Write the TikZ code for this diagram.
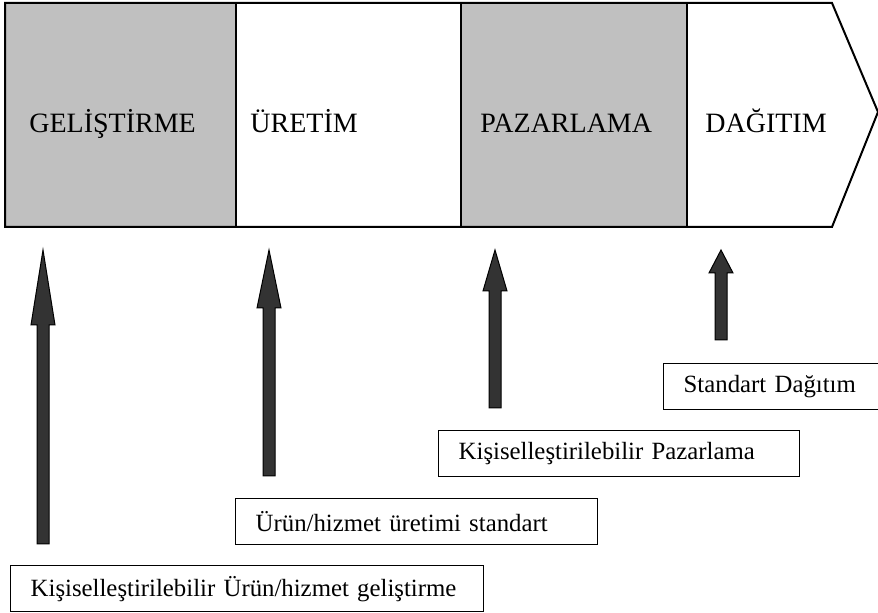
\documentclass[tikz,border=0pt]{standalone}
\usepackage{fontspec}
\setmainfont{Liberation Serif}
\usetikzlibrary{calc,positioning}
\definecolor{bandgray}{RGB}{192,192,192}
\definecolor{arrowgray}{RGB}{51,51,51}
\tikzset{
    stage/.style={anchor=base west,inner sep=0pt,font=\fontsize{14}{16}\selectfont},
    lowbox/.style={draw,line width=0.7pt,fill=white,anchor=north west,
                   minimum height=23pt,inner xsep=10pt,inner ysep=0pt,
                   font=\fontsize{12.4}{14}\selectfont,align=left},
    fatarrow/.style={fill=arrowgray,draw=black,line width=0.5pt}
}
\begin{document}
\begin{tikzpicture}[x=0.5pt,y=-0.5pt]
            \useasboundingbox (0,0) rectangle (878,613);
            % chain of stages
            \fill[bandgray] (5,3) rectangle (236,227);
            \fill[bandgray] (461,3) rectangle (687,227);
            \draw[line width=1pt] (5,3) -- (832,3) -- (878,112) -- (832,227) -- (5,227) -- cycle;
            \foreach \x in {236,461,687}{
                \draw[line width=1pt] (\x,3) -- (\x,227);
            }
            \node[stage] (gel) at (29,133) {GELİŞTİRME};
            \node[stage] (ure) at (250,133) {ÜRETİM};
            \node[stage] (paz) at (480,133) {PAZARLAMA};
            \node[stage] (dag) at (705,133) {DAĞITIM};

            % arrows: x / head base / bottom
            \foreach \x/\h/\b in {43/325/544,269/308/476,495/291/408,721/273/340}{
                \draw[fatarrow] (\x,250) -- (\x+12,\h) -- (\x+6,\h) -- (\x+6,\b)
                    -- (\x-6,\b) -- (\x-6,\h) -- (\x-12,\h) -- cycle;
            }

            \node[lowbox,text width=216.5pt] (kug) at (10,565) {Kişiselleştirilebilir Ürün/hizmet geliştirme};
            \node[lowbox,text width=161pt] (uhs) at (235,498) {Ürün/hizmet üretimi standart};
            \node[lowbox,text width=160.5pt] (kp) at (438,430) {Kişiselleştirilebilir Pazarlama};
            \node[lowbox,text width=92pt] (sd) at (663,363) {Standart Dağıtım};
        \end{tikzpicture}
\end{document}
